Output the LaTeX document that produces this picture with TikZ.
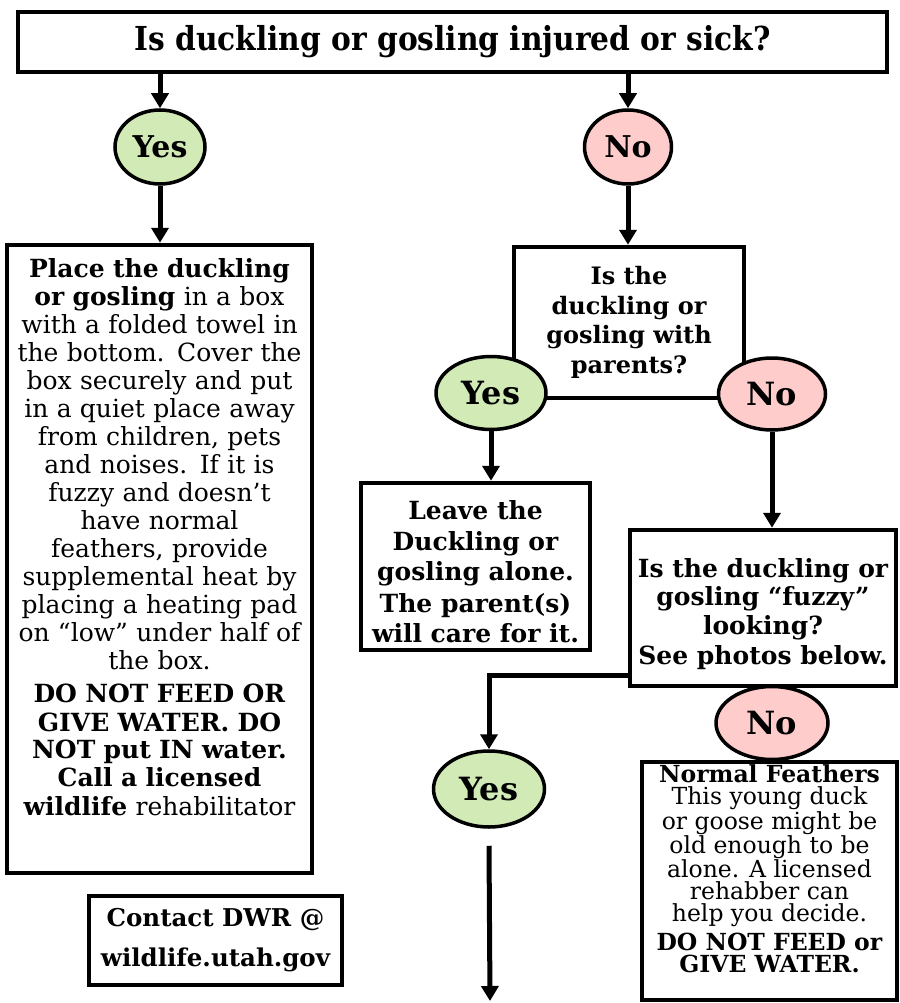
\documentclass[tikz,border=0pt]{standalone}
\usepackage{fontspec}
\setmainfont{DejaVu Serif}
\newfontfamily\condfont{DejaVu Serif Condensed}
\usetikzlibrary{arrows.meta,shapes.geometric}
\definecolor{yesgreen}{HTML}{D2EAB6}
\definecolor{nopink}{HTML}{FFCCCC}
\tikzset{
  box/.style={draw, line width=4.5pt, fill=white, align=center, inner sep=0pt},
  oval/.style={ellipse, draw, line width=3.5pt, inner sep=0pt, font=\bfseries\fontsize{30}{30}\selectfont},
  yesoval/.style={oval, fill=yesgreen},
  nooval/.style={oval, fill=nopink},
  bigoval/.style={font=\bfseries\fontsize{32}{32}\selectfont},
  link/.style={line width=5pt, -{Triangle[width=17pt,length=15pt]}}
}
\begin{document}
\begin{tikzpicture}[x=1pt, y=-1pt]
\useasboundingbox[fill=white] (0,0) rectangle (899,1003);
% boxes
\node[box, minimum width=869pt, minimum height=60pt, font=\condfont\bfseries\fontsize{33}{33}\selectfont] (sick) at (452.5,42) {Is duckling or gosling injured or sick?};
\node[box, minimum width=305pt, minimum height=628pt, text width=300pt, font=\fontsize{25}{28}\selectfont] (care) at (159.5,559)
  {\textbf{Place the duckling}\\ \textbf{or gosling} in a box\\ with a folded towel in\\ the bottom. Cover the\\ box securely and put\\ in a quiet place away\\ from children, pets\\ and noises. If it is\\ fuzzy and doesn’t\\ have normal\\ feathers, provide\\ supplemental heat by\\ placing a heating pad\\ on “low” under half of\\ the box.\\[5pt]
  \textbf{DO NOT FEED OR}\\ \textbf{GIVE WATER. DO}\\ \textbf{NOT put IN water.}\\ \textbf{Call a licensed}\\ \textbf{wildlife} rehabilitator\rule[-44pt]{0pt}{44pt}};
\node[box, minimum width=253pt, minimum height=89pt, font=\bfseries\fontsize{24.5}{40}\selectfont] (dwr) at (215.5,940.5) {Contact DWR @\\ wildlife.utah.gov};
\node[box, minimum width=230pt, minimum height=151pt, font=\bfseries\fontsize{24}{29.5}\selectfont] (parents) at (629,322.5) {Is the\\ duckling or\\ gosling with\\ parents?};
\node[box, minimum width=229pt, minimum height=167pt, font=\bfseries\fontsize{25}{30.5}\selectfont] (alone) at (475.5,566.5) {\rule{0pt}{30pt}Leave the\\ Duckling or\\ gosling alone.\\[1pt] The parent(s)\\ will care for it.};
\node[box, minimum width=266pt, minimum height=156pt, font=\bfseries\fontsize{25}{28.5}\selectfont] (fuzzy) at (763,608) {\rule{0pt}{31pt}Is the duckling or\\ gosling “fuzzy”\\ looking?\\[2pt] See photos below.};
\node[box, minimum width=255pt, minimum height=238pt, font=\fontsize{23.5}{22}\selectfont] (normal) at (769.5,881) {\textbf{Normal Feathers}\\ This young duck\\ or goose might be\\ old enough to be\\ alone. A licensed\\ rehabber can\\ help you decide.\\[6pt] \textbf{DO NOT FEED or}\\ \textbf{GIVE WATER.}\rule[-24pt]{0pt}{24pt}};
% ovals
\node[yesoval, minimum width=90pt, minimum height=74pt] (yesA) at (160,147) {Yes};
\node[nooval, minimum width=87pt, minimum height=74pt] (noA) at (628,147) {No};
\node[yesoval, bigoval, minimum width=110pt, minimum height=73pt] (yesB) at (491,393) {Yes};
\node[nooval, bigoval, minimum width=107pt, minimum height=72pt] (noB) at (772,394) {No};
\node[yesoval, bigoval, minimum width=111pt, minimum height=76pt] (yesC) at (489,789) {Yes};
\node[nooval, bigoval, minimum width=112pt, minimum height=73pt] (noC) at (772,723) {No};
% connectors
\coordinate (out) at (490,1001);
\draw[link] (sick.south -| yesA) -- (yesA.north);
\draw[link] (sick.south -| noA) -- (noA.north);
\draw[link] (yesA.south) -- (yesA.south |- care.north);
\draw[link] (noA.south) -- (noA.south |- parents.north);
\draw[link] (yesB.south) -- (yesB.south |- alone.north);
\draw[link] (noB.south) -- (noB.south |- fuzzy.north);
\draw[link] ([yshift=13pt]fuzzy.south west) -| (yesC.north);
\draw[link] ([yshift=-17pt]yesC.south) -- (out);
\end{tikzpicture}
\end{document}
